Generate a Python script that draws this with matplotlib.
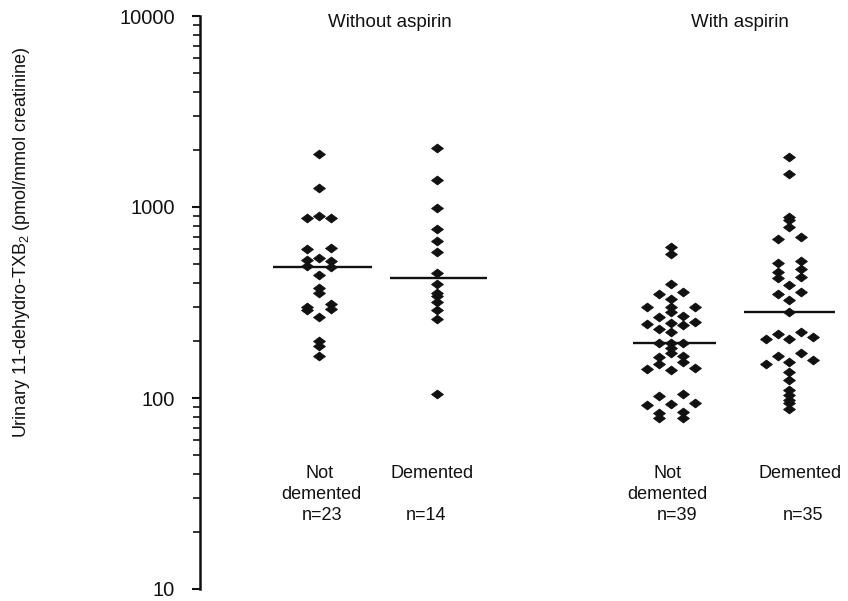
import numpy as np
import matplotlib
matplotlib.use("Agg")
import matplotlib.pyplot as plt
from matplotlib.ticker import LogLocator, NullFormatter, FixedLocator, FixedFormatter

plt.rcParams['font.family'] = ['Liberation Sans', 'DejaVu Sans']
plt.rcParams['mathtext.fontset'] = 'custom'
plt.rcParams['mathtext.rm'] = 'Liberation Sans'

# ---------------- data ----------------
group_labels = [["Not", "demented", "n=23"], ["Demented", "", "n=14"],
                ["Not", "demented", "n=39"], ["Demented", "", "n=35"]]
panel_titles = ["Without aspirin", "With aspirin"]

no_asp_not_dem = [1888, 1262, 873, 900, 879, 603, 610, 541, 530, 520, 491, 487,
                  443, 378, 353, 300, 290, 310, 293, 265, 199, 187, 166]
no_asp_dem = [2028, 1383, 988, 769, 666, 579, 453, 395, 353, 340, 317, 289, 259, 105]
asp_not_dem = [615, 565, 396, 350, 358, 329, 301, 281, 301, 301, 267, 270, 244, 249,
               230, 240, 247, 221, 193, 193, 193, 182, 171, 163, 166, 150, 155, 141,
               144, 140, 103, 105, 92, 94, 93, 83, 79, 84, 79]
asp_dem = [1830, 1483, 889, 855, 783, 679, 699, 511, 520, 458, 471, 423, 430, 389,
           350, 359, 326, 282, 204, 216, 204, 222, 208, 151, 165, 155, 173, 158,
           137, 124, 110, 104, 98, 94, 88]

ytick_values = [10, 100, 1000, 10000]
ytick_labels = ["10", "100", "1000", "10000"]

# ---------------- layout (swarm columns, positions) ----------------
slots_g1 = [0, 0, -1, 0, 1, -1, 1, 0, -1, 1, -1, 1, 0, 0, 0, -1, -1, 1, 1, 0, 0, 0, 0]
slots_g2 = [0] * 14
slots_g3 = [0, 0, 0, -1, 1, 0, 0, 0, -2, 2, -1, 1, -2, 2, -1, 1, 0, 0, -1, 0, 1, 0, 0,
            -1, 1, -1, 1, -2, 2, 0, -1, 1, -2, 2, 0, -1, -1, 1, 1]
slots_g4 = [0, 0, 0, 0, 0, -1, 1, -1, 1, -1, 1, -1, 1, 0, -1, 1, 0, 0, -2, -1, 0, 1, 2,
            -2, -1, 0, 1, 2, 0, 0, 0, 0, 0, 0, 0]

W, H = 848, 601
centers = [319, 436.7, 671, 789.3]
steps = [11.7, 11.7, 12.0, 11.7]
line_centers = [322.5, 438.5, 674.5, 789.5]
line_half = [49.5, 48.5, 41.5, 45.5]
label_x = [[320, 321, 322], [432.5, 432.5, 426], [668, 667, 677], [800, 800, 803]]
label_base_y = [478, 499, 520]

fig = plt.figure(figsize=(W / 100, H / 100), dpi=100)
ax = fig.add_axes([200 / W, (H - 589) / H, (W - 200) / W, (589 - 16) / H])
ax.set_yscale('log')
ax.set_ylim(10, 10000)
ax.set_xlim(200, W)

for s in ['top', 'right', 'bottom']:
    ax.spines[s].set_visible(False)
ax.spines['left'].set_linewidth(1.8)
ax.spines['left'].set_color('#111111')
ax.set_xticks([])

ax.yaxis.set_major_locator(FixedLocator(ytick_values))
ax.yaxis.set_major_formatter(FixedFormatter(ytick_labels))
ax.yaxis.set_minor_locator(LogLocator(base=10, subs=np.arange(2, 10)))
ax.yaxis.set_minor_formatter(NullFormatter())
ax.tick_params(axis='y', which='major', direction='out', length=6, width=1.5,
               pad=12, labelsize=14.5, colors='#111111')
ax.tick_params(axis='y', which='minor', direction='out', length=5, width=1.2,
               colors='#111111')

diamond = [(-1, 0), (0, 0.75), (1, 0), (0, -0.75), (-1, 0)]
groups = [no_asp_not_dem, no_asp_dem, asp_not_dem, asp_dem]
slots = [slots_g1, slots_g2, slots_g3, slots_g4]
for vals, sl, c, st, lc, lh in zip(groups, slots, centers, steps, line_centers, line_half):
    xs = c + st * np.array(sl, dtype=float)
    ax.plot(xs, vals, linestyle='none', marker=diamond, markersize=8.5,
            color='#111111', markeredgewidth=0.6, markeredgecolor='#111111')
    ax.hlines(np.median(vals), lc - lh, lc + lh, color='#111111', linewidth=1.7)

# texts
def fx(px):
    return px / W

def fy(py):
    return 1 - py / H

fig.text(fx(390), fy(27), panel_titles[0], ha='center', va='baseline',
         fontsize=13.5, color='#111111')
fig.text(fx(740), fy(27), panel_titles[1], ha='center', va='baseline',
         fontsize=13.5, color='#111111')

for lbls, xs in zip(group_labels, label_x):
    for t, x, y in zip(lbls, xs, label_base_y):
        if t:
            fig.text(fx(x), fy(y), t, ha='center', va='baseline', fontsize=13,
                     color='#111111')

fig.text(fx(22), fy(242), r'Urinary 11-dehydro-TXB$_\mathregular{2}$ (pmol/mmol creatinine)',
         rotation=90, ha='center', va='center', fontsize=13, color='#111111')

fig.savefig('out.png', dpi=100)
